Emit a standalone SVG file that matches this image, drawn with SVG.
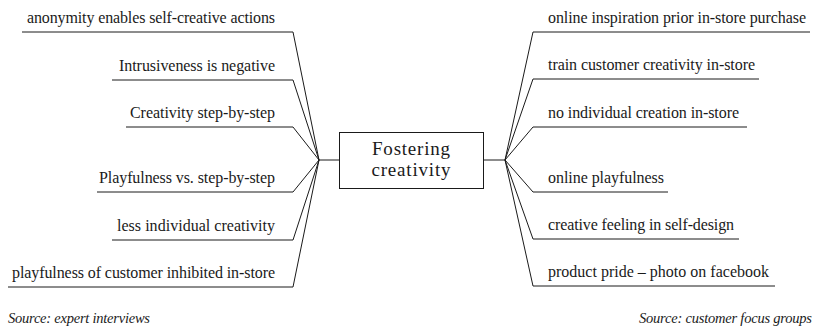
<svg xmlns="http://www.w3.org/2000/svg" width="814" height="329" viewBox="0 0 814 329">
  <style>
    text { font-family: 'Liberation Serif', 'DejaVu Serif', 'Times New Roman', 'Noto Serif', serif; fill: #1a1a1a; }
    .lbl { font-size: 16px; }
    .l { text-anchor: end; }
    .src { font-size: 14.5px; font-style: italic; }
    .title { font-size: 19px; text-anchor: middle; }
    .ln { fill: none; stroke: #1a1a1a; stroke-width: 1; }
  </style>

  <!-- connectors: branches fan out from the two hub points beside the central box -->
  <g id="connectors" class="ln">
    <path d="M339 160 H319"/>
    <path d="M483 160 H505"/>
    <!-- left branches -->
    <path d="M319 160 L293 32 H22"/>
    <path d="M319 160 L293 80 H112"/>
    <path d="M319 160 L293 127 H126"/>
    <path d="M319 160 L293 192 H97"/>
    <path d="M319 160 L293 240 H112"/>
    <path d="M319 160 L293 287 H8"/>
    <!-- right branches -->
    <path d="M505 160 L533 32 H810"/>
    <path d="M505 160 L533 79 H759"/>
    <path d="M505 160 L533 127 H747"/>
    <path d="M505 160 L533 192 H668"/>
    <path d="M505 160 L533 239 H739"/>
    <path d="M505 160 L533 286 H775"/>
  </g>

  <g id="center">
    <rect x="339.5" y="132.5" width="144" height="56" fill="#fff" stroke="#1a1a1a" stroke-width="1"/>
    <text class="title" x="411" y="155" textLength="78">Fostering</text>
    <text class="title" x="411" y="176" textLength="79">creativity</text>
  </g>

  <!-- left-hand topics -->
  <g id="n-anonymity"><text class="lbl l" x="275" y="23" textLength="248">anonymity enables self-creative actions</text></g>
  <g id="n-intrusiveness"><text class="lbl l" x="275" y="71" textLength="156">Intrusiveness is negative</text></g>
  <g id="n-stepbystep"><text class="lbl l" x="275" y="118" textLength="145">Creativity step-by-step</text></g>
  <g id="n-playfulness-vs"><text class="lbl l" x="275" y="183" textLength="176">Playfulness vs. step-by-step</text></g>
  <g id="n-less-individual"><text class="lbl l" x="275" y="231" textLength="158">less individual creativity</text></g>
  <g id="n-playfulness-inhibited"><text class="lbl l" x="275" y="278" textLength="263">playfulness of customer inhibited in-store</text></g>

  <!-- right-hand topics -->
  <g id="n-online-inspiration"><text class="lbl" x="548" y="23" textLength="258">online inspiration prior in-store purchase</text></g>
  <g id="n-train"><text class="lbl" x="548" y="70" textLength="207">train customer creativity in-store</text></g>
  <g id="n-no-individual"><text class="lbl" x="548" y="118" textLength="191">no individual creation in-store</text></g>
  <g id="n-online-playfulness"><text class="lbl" x="548" y="183" textLength="116">online playfulness</text></g>
  <g id="n-creative-feeling"><text class="lbl" x="548" y="230" textLength="186">creative feeling in self-design</text></g>
  <g id="n-product-pride"><text class="lbl" x="548" y="277" textLength="221">product pride – photo on facebook</text></g>

  <g id="sources">
    <text class="src" x="8" y="323" textLength="142">Source: expert interviews</text>
    <text class="src" x="812" y="323" text-anchor="end" textLength="173">Source: customer focus groups</text>
  </g>
</svg>
